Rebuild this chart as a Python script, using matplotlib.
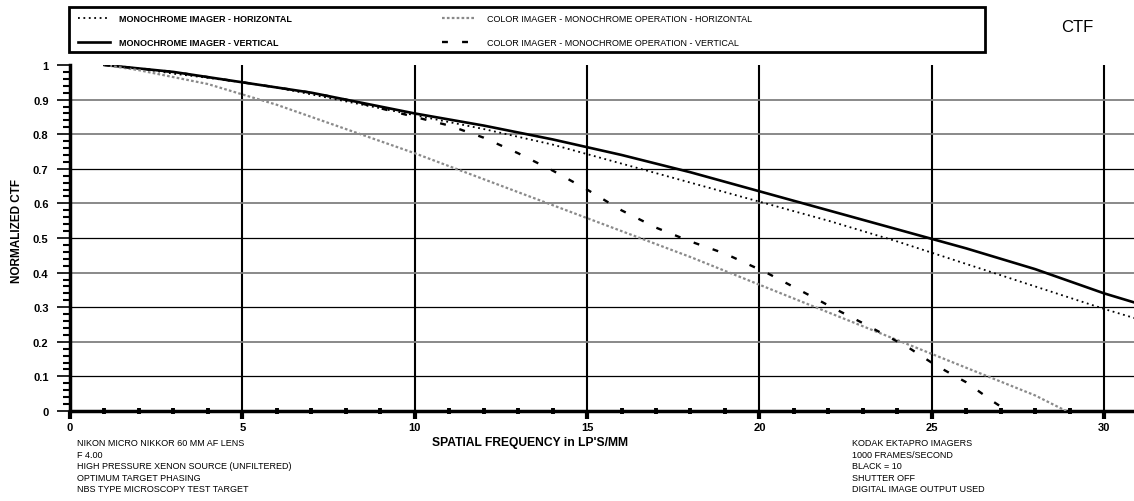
import numpy as np
import matplotlib.pyplot as plt
from matplotlib.ticker import MultipleLocator

plt.rcParams['font.family'] = ['Liberation Sans', 'DejaVu Sans']

# monochrome imager
freq_mono = [1, 2, 3, 4, 5, 6, 7, 8, 9, 10, 12, 14, 16, 18, 20, 22, 24, 26, 28, 30, 31]
ctf_mono_h = [1.0, 0.99, 0.975, 0.963, 0.95, 0.935, 0.915, 0.895, 0.875, 0.855, 0.815,
              0.77, 0.715, 0.66, 0.605, 0.55, 0.49, 0.425, 0.36, 0.295, 0.265]
ctf_mono_v = [1.0, 0.99, 0.98, 0.965, 0.95, 0.935, 0.92, 0.9, 0.88, 0.86, 0.825,
              0.785, 0.74, 0.69, 0.635, 0.58, 0.525, 0.47, 0.41, 0.34, 0.31]

# color imager, monochrome operation
freq_col_h = [1, 2, 3, 4, 5, 6, 7, 8, 9, 10, 12, 14, 16, 18, 20, 22, 24, 26, 28, 28.9]
ctf_col_h = [1.0, 0.985, 0.965, 0.945, 0.915, 0.885, 0.85, 0.815, 0.78, 0.745, 0.67,
             0.595, 0.52, 0.445, 0.365, 0.285, 0.205, 0.125, 0.045, 0.0]
freq_col_v = [1, 2, 3, 4, 5, 6, 7, 8, 9, 10, 11, 12, 13, 14, 15, 16, 17, 18, 19, 20.2,
              21.1, 22.1, 23, 24.3, 25.1, 26, 26.8, 27.2]
ctf_col_v = [1.0, 0.99, 0.98, 0.965, 0.95, 0.935, 0.92, 0.9, 0.875, 0.85, 0.825, 0.79,
             0.745, 0.695, 0.64, 0.58, 0.53, 0.49, 0.455, 0.40, 0.353, 0.30, 0.254,
             0.185, 0.133, 0.083, 0.026, 0.0]

labels = ["MONOCHROME IMAGER - HORIZONTAL", "MONOCHROME IMAGER - VERTICAL",
          "COLOR IMAGER - MONOCHROME OPERATION - HORIZONTAL",
          "COLOR IMAGER - MONOCHROME OPERATION - VERTICAL"]
notes_left = ["NIKON MICRO NIKKOR 60 MM AF LENS", "F 4.00",
              "HIGH PRESSURE XENON SOURCE (UNFILTERED)", "OPTIMUM TARGET PHASING",
              "NBS TYPE MICROSCOPY TEST TARGET"]
notes_right = ["KODAK EKTAPRO IMAGERS", "1000 FRAMES/SECOND", "BLACK = 10",
               "SHUTTER OFF", "DIGITAL IMAGE OUTPUT USED"]

styles = [dict(color='black', lw=1.3, ls=(0, (1, 2))),
          dict(color='black', lw=1.9, ls='-'),
          dict(color='#8a8a8a', lw=1.6, ls=(0, (1.2, 1.0))),
          dict(color='black', lw=1.7, ls=(0, (2.5, 6)))]

W, H = 1134, 502
fig = plt.figure(figsize=(W / 100, H / 100), dpi=100)
ax = fig.add_axes([70 / W, 1 - 412 / H, (W - 70) / W, 346 / H])

ax.set_xlim(0, (W - 70) / 34.47)
ax.set_ylim(0, 1)

for xv in range(5, 31, 5):
    ax.axvline(xv, color='black', lw=1.5, zorder=1)
for i in range(1, 10):
    if i % 2 == 1 and i < 9:
        ax.axhline(i / 10, color='black', lw=0.9, zorder=1)
    else:
        ax.axhline(i / 10, color='#808080', lw=1.3, zorder=1)

ax.plot(freq_mono, ctf_mono_h, zorder=3, **styles[0])
ax.plot(freq_mono, ctf_mono_v, zorder=3, **styles[1])
ax.plot(freq_col_h, ctf_col_h, zorder=3, **styles[2])
ax.plot(freq_col_v, ctf_col_v, zorder=3, **styles[3])

for side in ['top', 'right']:
    ax.spines[side].set_visible(False)
ax.spines['left'].set_linewidth(2.5)
ax.spines['bottom'].set_linewidth(2.5)

ax.xaxis.set_major_locator(MultipleLocator(5))
ax.xaxis.set_minor_locator(MultipleLocator(1))
ax.yaxis.set_major_locator(MultipleLocator(0.1))
ax.yaxis.set_minor_locator(MultipleLocator(0.02))
ax.tick_params(axis='x', which='major', direction='out', length=6, width=3, pad=2,
               labelsize=8)
ax.tick_params(axis='x', which='minor', direction='inout', length=4, width=2.8)
ax.tick_params(axis='y', which='major', direction='out', length=9.4, width=1.2, pad=6,
               labelsize=8)
ax.tick_params(axis='y', which='minor', direction='out', length=5, width=1.5)
ax.set_yticks(np.arange(0, 1.01, 0.1))
ax.set_yticklabels(['0', '0.1', '0.2', '0.3', '0.4', '0.5', '0.6', '0.7', '0.8', '0.9', '1'])
for t in ax.get_xticklabels() + ax.get_yticklabels():
    t.set_fontweight('bold')

fig.text(17 / W, 1 - 231 / H, "NORMALIZED CTF", fontsize=8.5, fontweight='bold',
         rotation=90, ha='center', va='center')
fig.text(530 / W, 1 - 443 / H, "SPATIAL FREQUENCY in LP'S/MM", fontsize=8.7,
         fontweight='bold', ha='center', va='center')

# legend box
box = plt.Rectangle((69 / W, 1 - 53 / H), (985 - 69) / W, 45 / H, transform=fig.transFigure,
                    fill=False, lw=2, edgecolor='black')
fig.add_artist(box)
slots = [(78, 110, 119, 19, True), (78, 110, 119, 43, True),
         (442, 475, 487, 19, False), (442, 475, 487, 43, False)]
for st, lab, (x0, x1, xt, y, bold) in zip(styles, labels, slots):
    fy = 1 - y / H
    fig.add_artist(plt.Line2D([x0 / W, x1 / W], [fy, fy], transform=fig.transFigure, **st))
    fig.text(xt / W, fy, lab, fontsize=6.5, fontweight='bold' if bold else 'normal',
             ha='left', va='center')

fig.text(1077 / W, 1 - 28 / H, "CTF", fontsize=12, ha='center', va='center')

for i, s in enumerate(notes_left):
    fig.text(77 / W, 1 - (444 + 11.5 * i) / H, s, fontsize=6.5, ha='left', va='center')
for i, s in enumerate(notes_right):
    fig.text(852 / W, 1 - (444 + 11.5 * i) / H, s, fontsize=6.5, ha='left', va='center')

fig.savefig("out.png", dpi=100)
